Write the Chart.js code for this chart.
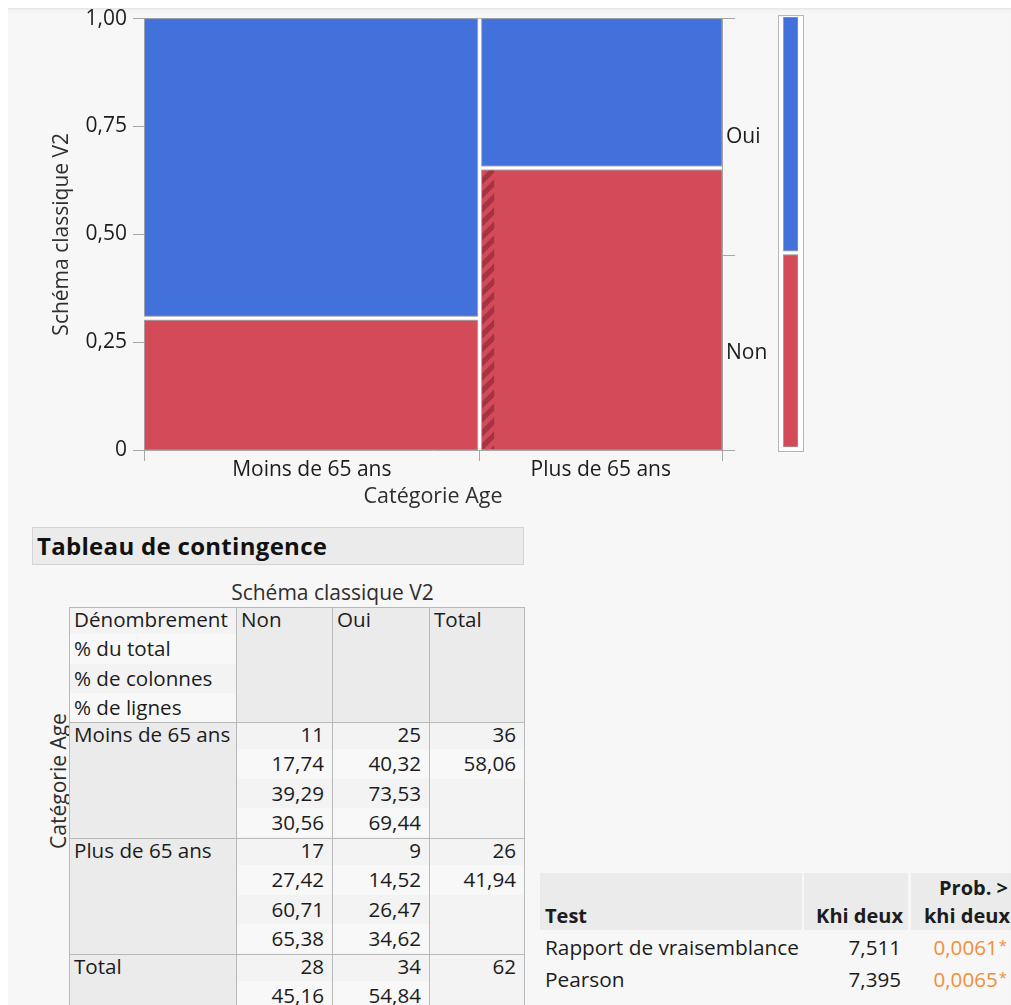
<!DOCTYPE html>
<html lang="fr">
<head>
<meta charset="utf-8">
<title>Catégorie Age × Schéma classique V2</title>
<script src="https://cdn.jsdelivr.net/npm/chart.js@4.4.1/dist/chart.umd.min.js"></script>
<style>
  html, body { margin: 0; padding: 0; }
  body {
    width: 1011px; height: 1005px; position: relative; overflow: hidden;
    background: #ffffff; color: #1c1c1c;
    font-family: 'Open Sans', 'Noto Sans', sans-serif;
  }
  #report {
    position: absolute; left: 8px; top: 8px; width: 1003px; height: 997px;
    background: #f7f7f7; box-shadow: inset 0 3px 3px -2px rgba(0,0,0,0.10);
  }
  #mosaic { position: absolute; left: 0; top: 0; }
  #marginFrame {
    position: absolute; left: 778px; top: 15px; width: 24px; height: 435px;
    border: 1px solid #b6b6b6; background: #ffffff;
  }
  #marginFrame canvas { position: absolute; left: 0; top: 0; }
  .abs { position: absolute; white-space: nowrap; }
  #tableTitle {
    position: absolute; left: 32px; top: 527px; width: 486px; height: 36px;
    background: #ebebeb; border: 1px solid #d4d4d4;
    font-weight: 700; font-size: 24px; line-height: 36px; padding-left: 4px; color: #111;
    letter-spacing: 0.3px;
  }
  .cell { position: absolute; box-sizing: border-box; border: 1px solid #b9b9b9; overflow: hidden; }
  .line { height: 29.3px; line-height: 29.3px; font-size: 20.6px; white-space: nowrap; position: relative; top: -3px; }
  .num { text-align: right; padding-right: 8px; }
  .lab { text-align: left; padding-left: 4px; }
  .hdr { background: #ebebeb; }
  .bandA { background: #f3f3f3; }
  .bandB { background: #f8f8f8; }
  .testHead { position: absolute; background: #ebebeb; }
  .bold { font-weight: 700; }
  .sig { color: #ee8f3b; }
  .star { font-size: 15px; position: relative; top: -4px; margin-left: 1px; }
</style>
</head>
<body>
<div id="report"></div>
<canvas id="mosaic" width="775" height="520"></canvas>
<div id="marginFrame"><canvas id="margin" width="24" height="435"></canvas></div>
<div id="tableTitle">Tableau de contingence</div>
<div id="tables"></div>

<script>
// ---- data ----------------------------------------------------------------
const ageGroups = ['Moins de 65 ans', 'Plus de 65 ans'];
const schemaLevels = ['Non', 'Oui'];
const countNon = [11, 17];
const countOui = [25, 9];
const shareTicks = [0, 0.25, 0.5, 0.75, 1];
const shareTickLabels = ['0', '0,25', '0,50', '0,75', '1,00'];

// contingency cells as printed: Dénombrement, % du total, % de colonnes, % de lignes
const statLabels = ['Dénombrement', '% du total', '% de colonnes', '% de lignes'];
const moinsNon = ['11', '17,74', '39,29', '30,56'];
const moinsOui = ['25', '40,32', '73,53', '69,44'];
const moinsTotal = ['36', '58,06'];
const plusNon = ['17', '27,42', '60,71', '65,38'];
const plusOui = ['9', '14,52', '26,47', '34,62'];
const plusTotal = ['26', '41,94'];
const totalNon = ['28', '45,16'];
const totalOui = ['34', '54,84'];
const totalAll = ['62'];

// chi-square tests
const testNames = ['Rapport de vraisemblance', 'Pearson'];
const chiSquare = ['7,511', '7,395'];
const probChi = ['0,0061', '0,0065'];

// ---- styling -------------------------------------------------------------
const RED = '#d34a59';
const BLUE = '#4371dc';
const LEVEL_COLORS = [RED, BLUE];
const EDGE = '#a6a6a6';
const FONT = "'Open Sans', 'Noto Sans', sans-serif";
const TEXT = '#1c1c1c';
const LABEL_SIZE = 21;

// ---- mosaic geometry (proportions derived from the counts) ---------------
const rowTotals = ageGroups.map((_, i) => countNon[i] + countOui[i]);
const grand = rowTotals.reduce((a, b) => a + b, 0);
const xEdges = [0];
rowTotals.forEach(t => xEdges.push(xEdges[xEdges.length - 1] + t / grand));
const nonShare = countNon.map((n, i) => n / rowTotals[i]);
const nonShareAll = countNon.reduce((a, b) => a + b, 0) / grand;

function rect(x0, x1, y0, y1) {
  return [{x: x0, y: y0}, {x: x1, y: y0}, {x: x1, y: y1}, {x: x0, y: y1}, {x: x0, y: y0}];
}
function tile(label, data, color) {
  return {label, data, backgroundColor: color, borderColor: EDGE, borderWidth: 1,
          showLine: true, fill: 'shape', pointRadius: 0, pointHoverRadius: 0, order: 3};
}
function seams(segs) {
  // gray edge pair with a white gap between neighbouring tiles
  const out = [];
  segs.forEach(s => out.push({data: s, borderColor: EDGE, borderWidth: 5, showLine: true, fill: false,
                              pointRadius: 0, pointHoverRadius: 0, order: 2}));
  segs.forEach(s => out.push({data: s, borderColor: '#ffffff', borderWidth: 3, showLine: true, fill: false,
                              pointRadius: 0, pointHoverRadius: 0, order: 1}));
  return out;
}

const mosaicSets = [];
const mosaicSegs = [];
ageGroups.forEach((g, i) => {
  mosaicSets.push(tile(g + ' – ' + schemaLevels[0], rect(xEdges[i], xEdges[i + 1], 0, nonShare[i]), LEVEL_COLORS[0]));
  mosaicSets.push(tile(g + ' – ' + schemaLevels[1], rect(xEdges[i], xEdges[i + 1], nonShare[i], 1), LEVEL_COLORS[1]));
  mosaicSegs.push([{x: xEdges[i], y: nonShare[i]}, {x: xEdges[i + 1], y: nonShare[i]}]);
  if (i > 0) mosaicSegs.push([{x: xEdges[i], y: 0}, {x: xEdges[i], y: 1}]);
});

// x axis: boundary ticks carry the marks, mid ticks carry the names
const xTickValues = [0];
const xTickLabels = [''];
ageGroups.forEach((g, i) => {
  xTickValues.push((xEdges[i] + xEdges[i + 1]) / 2, xEdges[i + 1]);
  xTickLabels.push(g, '');
});
// right axis: overall split of the response levels
const levelEdges = [0, nonShareAll, 1];
const rTickValues = [0];
const rTickLabels = [''];
schemaLevels.forEach((lv, k) => {
  rTickValues.push((levelEdges[k] + levelEdges[k + 1]) / 2, levelEdges[k + 1]);
  rTickLabels.push(lv, '');
});

// narrow selection strip drawn over the "Plus de 65 ans / Non" tile
const selectionStrip = {
  id: 'selectionStrip',
  afterDatasetsDraw(chart) {
    const {ctx} = chart;
    const x = chart.scales.x, y = chart.scales.y;
    const g = 1;
    const left = x.getPixelForValue(xEdges[g]) + 2.5;
    const top = y.getPixelForValue(nonShare[g]) + 2.5;
    const bottom = y.getPixelForValue(0) - 1;
    const w = 12;
    ctx.save();
    ctx.beginPath();
    ctx.rect(left, top, w, bottom - top);
    ctx.clip();
    ctx.strokeStyle = 'rgba(105,20,35,0.42)';
    ctx.lineWidth = 5;
    for (let yy = bottom + w; yy > top - w; yy -= 14) {
      ctx.beginPath();
      ctx.moveTo(left - 2, yy + 2);
      ctx.lineTo(left + w + 2, yy - w - 2);
      ctx.stroke();
    }
    ctx.restore();
  }
};

Chart.defaults.font.family = FONT;
Chart.defaults.color = TEXT;

new Chart(document.getElementById('mosaic'), {
  type: 'scatter',
  data: {datasets: mosaicSets.concat(seams(mosaicSegs))},
  options: {
    responsive: false,
    animation: false,
    events: [],
    layout: {padding: {top: 16, left: 0, right: 0, bottom: 0}},
    plugins: {legend: {display: false}, tooltip: {enabled: false}},
    scales: {
      x: {
        type: 'linear', position: 'bottom', min: 0, max: 1, z: 1,
        afterBuildTicks: s => { s.ticks = xTickValues.map(v => ({value: v})); },
        afterFit: s => { s.height = 70; },
        ticks: {autoSkip: false, maxRotation: 0, padding: -4, color: TEXT,
                font: {size: LABEL_SIZE}, callback: (v, i) => xTickLabels[i]},
        grid: {drawOnChartArea: false, tickLength: 11, tickWidth: 1,
               tickColor: c => (xTickLabels[c.index] === '' ? EDGE : 'rgba(0,0,0,0)')},
        border: {display: true, color: EDGE},
        title: {display: true, text: 'Catégorie Age', color: '#2e2e2e', font: {size: 21.5},
                padding: {top: 0, bottom: 10}}
      },
      y: {
        type: 'linear', position: 'left', min: 0, max: 1, z: 1,
        afterBuildTicks: s => { s.ticks = shareTicks.map(v => ({value: v})); },
        afterFit: s => { s.width = 144; },
        ticks: {padding: 6, color: TEXT, font: {size: LABEL_SIZE}, callback: (v, i) => shareTickLabels[i]},
        grid: {tickLength: 11, tickColor: EDGE,
               color: c => (c.tick && c.tick.value === 1 ? EDGE : 'rgba(0,0,0,0)')},
        border: {display: true, color: EDGE},
        title: {display: true, text: 'Schéma classique V2', color: '#2e2e2e', font: {size: 21},
                padding: {top: 49, bottom: 0}}
      },
      y2: {
        type: 'linear', position: 'right', min: 0, max: 1, z: 1,
        afterBuildTicks: s => { s.ticks = rTickValues.map(v => ({value: v})); },
        afterFit: s => { s.width = 53; },
        ticks: {padding: -9, color: TEXT, font: {size: LABEL_SIZE}, callback: (v, i) => rTickLabels[i]},
        grid: {drawOnChartArea: false, tickLength: 13,
               tickColor: c => (rTickLabels[c.index] === '' ? EDGE : 'rgba(0,0,0,0)')},
        border: {display: true, color: EDGE}
      }
    }
  },
  plugins: [selectionStrip]
});

// marginal bar: overall share of each response level
const marginSets = [
  tile('Ensemble – ' + schemaLevels[0], rect(0, 1, 0, nonShareAll), LEVEL_COLORS[0]),
  tile('Ensemble – ' + schemaLevels[1], rect(0, 1, nonShareAll, 1), LEVEL_COLORS[1])
];
new Chart(document.getElementById('margin'), {
  type: 'scatter',
  data: {datasets: marginSets.concat(seams([[{x: 0, y: nonShareAll}, {x: 1, y: nonShareAll}]]))},
  options: {
    responsive: false, animation: false, events: [],
    layout: {padding: {top: 1, left: 4, right: 5, bottom: 4}},
    plugins: {legend: {display: false}, tooltip: {enabled: false}},
    scales: {
      x: {type: 'linear', min: 0, max: 1, display: false},
      y: {type: 'linear', min: 0, max: 1, display: false}
    }
  }
});

// ---- contingency table -----------------------------------------------------
const host = document.getElementById('tables');
function el(tag, cls, html, style) {
  const d = document.createElement(tag);
  if (cls) d.className = cls;
  if (html !== undefined) d.innerHTML = html;
  if (style) Object.assign(d.style, style);
  return d;
}
host.appendChild(el('div', 'abs', 'Schéma classique V2',
  {left: '216px', top: '578px', width: '233px', textAlign: 'center', fontSize: '21px', lineHeight: '28px', color: '#2e2e2e'}));
host.appendChild(el('div', 'abs', 'Catégorie Age',
  {left: '58px', top: '781px', fontSize: '21px', lineHeight: '24px', color: '#2e2e2e',
   transform: 'translate(-50%, -50%) rotate(-90deg)'}));

const colX = [69, 236, 332, 429, 524];
const rowY = [607, 722, 838, 954, 1080];
function cell(r, c, lines, kind, shaded) {
  const d = el('div', 'cell' + (shaded ? ' hdr' : ''), undefined, {
    left: colX[c] + 'px', top: rowY[r] + 'px',
    width: (colX[c + 1] - colX[c] + 1) + 'px', height: (rowY[r + 1] - rowY[r] + 1) + 'px'
  });
  if (!shaded) d.style.background = '#f3f3f3';
  lines.forEach((t, k) => {
    const band = shaded ? '' : (k % 2 === 0 ? ' bandA' : ' bandB');
    d.appendChild(el('div', 'line ' + kind + band, t));
  });
  host.appendChild(d);
}
cell(0, 0, statLabels, 'lab', false);
cell(0, 1, [schemaLevels[0]], 'lab', true);
cell(0, 2, [schemaLevels[1]], 'lab', true);
cell(0, 3, ['Total'], 'lab', true);
cell(1, 0, [ageGroups[0]], 'lab', true);
cell(1, 1, moinsNon, 'num', false);
cell(1, 2, moinsOui, 'num', false);
cell(1, 3, moinsTotal, 'num', false);
cell(2, 0, [ageGroups[1]], 'lab', true);
cell(2, 1, plusNon, 'num', false);
cell(2, 2, plusOui, 'num', false);
cell(2, 3, plusTotal, 'num', false);
cell(3, 0, ['Total'], 'lab', true);
cell(3, 1, totalNon, 'num', false);
cell(3, 2, totalOui, 'num', false);
cell(3, 3, totalAll, 'num', false);

// ---- chi-square tests ------------------------------------------------------
host.appendChild(el('div', 'testHead', '', {left: '540px', top: '873px', width: '262px', height: '57px'}));
host.appendChild(el('div', 'testHead', '', {left: '804px', top: '873px', width: '104px', height: '57px'}));
host.appendChild(el('div', 'testHead', '', {left: '911px', top: '873px', width: '100px', height: '57px'}));
host.appendChild(el('div', 'abs bold', 'Test', {left: '545px', top: '904px', fontSize: '20px', lineHeight: '24px'}));
host.appendChild(el('div', 'abs bold', 'Khi deux', {right: '108px', top: '904px', fontSize: '20px', lineHeight: '24px'}));
host.appendChild(el('div', 'abs bold', 'Prob. &gt;', {right: '3px', top: '876px', fontSize: '20px', lineHeight: '24px'}));
host.appendChild(el('div', 'abs bold', 'khi deux', {right: '1px', top: '904px', fontSize: '20px', lineHeight: '24px'}));
testNames.forEach((n, k) => {
  const top = 935 + k * 32;
  host.appendChild(el('div', 'abs', n, {left: '545px', top: top + 'px', fontSize: '20.8px', lineHeight: '24px'}));
  host.appendChild(el('div', 'abs', chiSquare[k], {right: '110px', top: top + 'px', fontSize: '20.6px', lineHeight: '24px'}));
  host.appendChild(el('div', 'abs sig', probChi[k] + '<span class="star">*</span>',
    {right: '4px', top: top + 'px', fontSize: '20.6px', lineHeight: '24px'}));
});
</script>
</body>
</html>
